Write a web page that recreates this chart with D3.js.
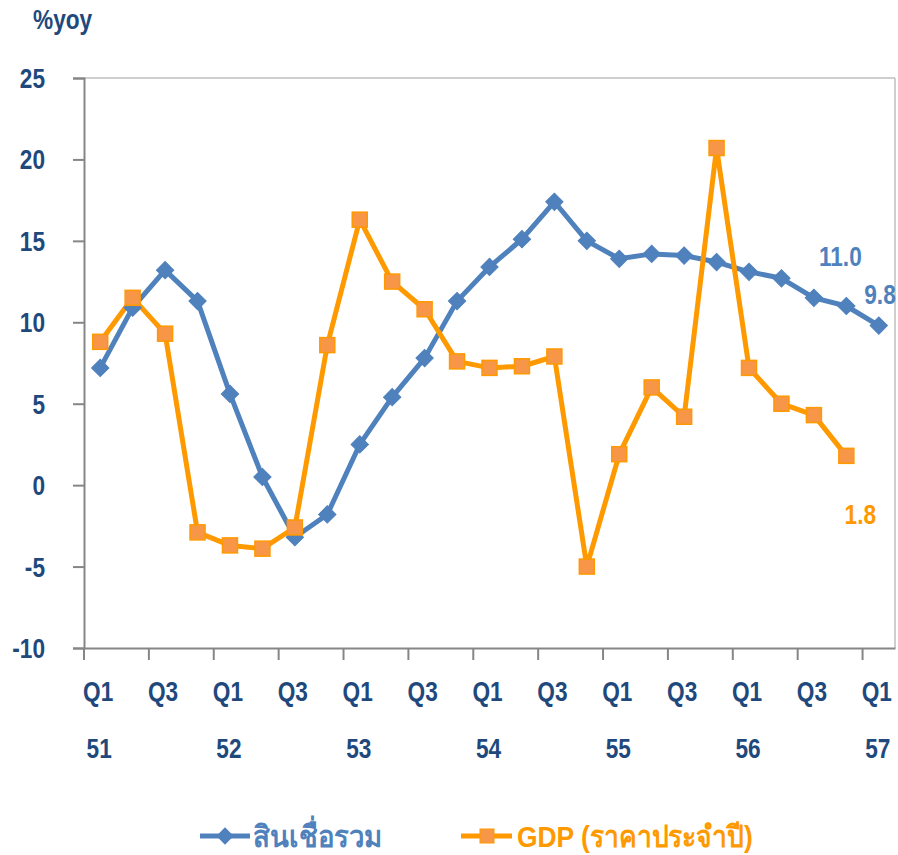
<!DOCTYPE html>
<html><head><meta charset="utf-8">
<script src="https://cdn.jsdelivr.net/npm/d3@7/dist/d3.min.js"></script>
<style>
body{margin:0;background:#fff;}
svg text{font-family:"Liberation Sans",Arial,sans-serif;font-weight:bold;}
</style></head>
<body><svg id="c" width="898" height="855"></svg>
<script>
const quarters = ["Q1","Q2","Q3","Q4","Q1","Q2","Q3","Q4","Q1","Q2","Q3","Q4","Q1","Q2","Q3","Q4","Q1","Q2","Q3","Q4","Q1","Q2","Q3","Q4","Q1"];
const years = ["51","","","","52","","","","53","","","","54","","","","55","","","","56","","","","57"];
const credit = [7.2,10.9,13.2,11.3,5.6,0.5,-3.2,-1.8,2.5,5.4,7.8,11.3,13.4,15.1,17.4,15.0,13.9,14.2,14.1,13.7,13.1,12.7,11.5,11.0,9.8];
const gdp = [8.8,11.5,9.3,-2.9,-3.7,-3.9,-2.6,8.6,16.3,12.5,10.8,7.6,7.2,7.3,7.9,-5.0,1.9,6.0,4.2,20.7,7.2,5.0,4.3,1.8];
const yTicks = [-10,-5,0,5,10,15,20,25];
const seriesNames = ["สินเชื่อรวม","GDP (ราคาประจำปี)"];

const svg = d3.select("#c");
const L=84, R=895, T=78, B=648;
const SX=0.84;
const idx = d3.range(quarters.length);
const x = d3.scaleBand().domain(idx).range([L,R]);
const y = d3.scaleLinear().domain([-10,25]).range([B,T]);
const cx = i => x(i)+x.bandwidth()/2;
const navy="#1F497D", blue="#4F81BD", orange="#FF9900", ofill="#F79646";

function txt(parent, tx, ty, str, size, fill, anchor, sx){
  return parent.append("text").attr("transform",`translate(${tx},${ty}) scale(${sx||SX},1)`)
    .attr("text-anchor",anchor||"start").attr("fill",fill).style("font-size",size+"px").text(str);
}

// frame top/right
svg.append("line").attr("x1",L).attr("x2",R).attr("y1",T).attr("y2",T).attr("stroke","#BFBFBF").attr("stroke-width",1.5);
svg.append("line").attr("x1",R).attr("x2",R).attr("y1",T).attr("y2",B).attr("stroke","#BFBFBF").attr("stroke-width",1.5);

// y axis
const ya = svg.append("g").attr("transform",`translate(${L},0)`)
  .call(d3.axisLeft(y).tickValues(yTicks).tickSize(11).tickFormat(d=>String(d)));
ya.select(".domain").attr("stroke","#868686").attr("stroke-width",2);
ya.selectAll(".tick line").attr("stroke","#868686").attr("stroke-width",2);
ya.selectAll(".tick text").remove();
yTicks.forEach(v=>{ txt(svg, 45, y(v)+10, String(v), 27, navy, "end"); });

// x axis
const xa = svg.append("g").attr("transform",`translate(0,${B})`)
  .call(d3.axisBottom(x).tickValues([]).tickSize(0));
xa.select(".domain").attr("stroke","#868686").attr("stroke-width",2);
const tickIdx = d3.range(0, quarters.length, 2);
xa.selectAll(".xt").data(tickIdx).enter().append("line")
  .attr("x1",i=>x(i)).attr("x2",i=>x(i)).attr("y1",0).attr("y2",12)
  .attr("stroke","#868686").attr("stroke-width",2);
tickIdx.forEach(i=>{ txt(svg, cx(i)-2, 701, quarters[i], 27, navy, "middle"); });
idx.filter(i=>years[i]).forEach(i=>{ txt(svg, cx(i)-1, 758, years[i], 27, navy, "middle"); });

txt(svg, 33, 29, "%yoy", 27, navy, "start");

// lines
const line = d3.line().x((d,i)=>cx(i)).y(d=>y(d));
svg.append("path").datum(credit).attr("d",line).attr("fill","none").attr("stroke",blue).attr("stroke-width",5).attr("stroke-linejoin","round");
svg.append("path").datum(gdp).attr("d",line).attr("fill","none").attr("stroke",orange).attr("stroke-width",5).attr("stroke-linejoin","round");

const diamond = d3.symbol().type(d3.symbolSquare).size(150);
svg.selectAll(".dm").data(credit).enter().append("path")
  .attr("d",diamond()).attr("transform",(d,i)=>`translate(${cx(i)},${y(d)}) rotate(45)`)
  .attr("fill",blue).attr("stroke",blue).attr("stroke-width",1);
svg.selectAll(".sq").data(gdp).enter().append("rect")
  .attr("x",(d,i)=>cx(i)-7.5).attr("y",d=>y(d)-7.5).attr("width",15).attr("height",15)
  .attr("fill",ofill).attr("stroke",orange).attr("stroke-width",1.5);

// data labels
const n=credit.length, m=gdp.length;
txt(svg, cx(n-2)-6, y(credit[n-2])-40, credit[n-2].toFixed(1), 27, blue, "middle");
txt(svg, 880, y(credit[n-1])-22, credit[n-1].toFixed(1), 27, blue, "middle");
txt(svg, cx(m-1)+14, y(gdp[m-1])+68, gdp[m-1].toFixed(1), 27, orange, "middle");

// legend
const lg = svg.append("g");
lg.append("line").attr("x1",200).attr("x2",250).attr("y1",836).attr("y2",836).attr("stroke",blue).attr("stroke-width",5);
lg.append("path").attr("d",diamond()).attr("transform","translate(225,836) rotate(45)").attr("fill",blue);
txt(lg, 253, 847, seriesNames[0], 30, blue, "start", 0.92);
lg.append("line").attr("x1",461).attr("x2",512).attr("y1",836).attr("y2",836).attr("stroke",orange).attr("stroke-width",5);
lg.append("rect").attr("x",480).attr("y",829).attr("width",14).attr("height",14).attr("fill",ofill).attr("stroke",orange);
txt(lg, 517, 847, seriesNames[1], 30, orange, "start", 0.88);
</script></body></html>
